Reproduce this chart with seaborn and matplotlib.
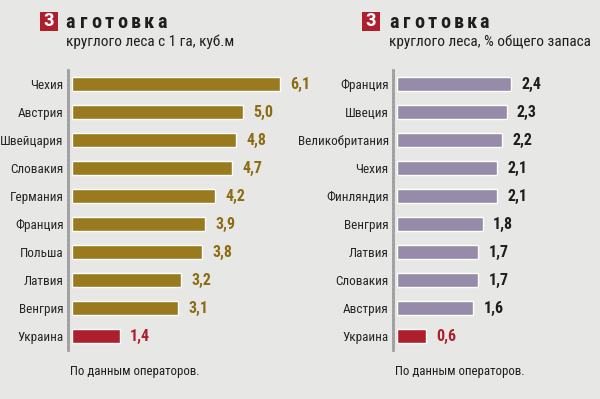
import matplotlib
matplotlib.use("Agg")
import matplotlib.pyplot as plt
import seaborn as sns
import pandas as pd
from matplotlib.patches import Rectangle

# Data
left_countries = ["Чехия", "Австрия", "Швейцария", "Словакия", "Германия",
                  "Франция", "Польша", "Латвия", "Венгрия", "Украина"]
left_values = [6.1, 5.0, 4.8, 4.7, 4.2, 3.9, 3.8, 3.2, 3.1, 1.4]
left_labels = ["6,1", "5,0", "4,8", "4,7", "4,2", "3,9", "3,8", "3,2", "3,1", "1,4"]

right_countries = ["Франция", "Швеция", "Великобритания", "Чехия", "Финляндия",
                   "Венгрия", "Латвия", "Словакия", "Австрия", "Украина"]
right_values = [2.4, 2.3, 2.2, 2.1, 2.1, 1.8, 1.7, 1.7, 1.6, 0.6]
right_labels = ["2,4", "2,3", "2,2", "2,1", "2,1", "1,8", "1,7", "1,7", "1,6", "0,6"]

heading_letter = "З"
heading_rest = "аготовка"
left_title = "круглого леса с 1 га, куб.м"
right_title = "круглого леса, % общего запаса"
footer = "По данным операторов."

BG = "#e7e7e5"
GOLD = "#9a7a1e"
GOLD_TXT = "#8c6c12"
PURPLE = "#968ba9"
RED = "#ad1f2c"
DARK = "#1e1e1e"

sns.set_theme(style="white")
FAM = ['Roboto Condensed', 'Liberation Sans Narrow', 'Open Sans Condensed',
       'Liberation Sans', 'DejaVu Sans']
plt.rcParams['font.family'] = FAM

W, H = 600, 399
fig = plt.figure(figsize=(W / 100, H / 100), dpi=100, facecolor=BG)


def px_axes(x0, y0, w, h):
    return fig.add_axes([x0 / W, 1 - (y0 + h) / H, w / W, h / H])


def panel(ax, countries, values, labels, bar_color, txt_color, xmax):
    df = pd.DataFrame({"country": countries, "value": values})
    colors = [bar_color] * (len(countries) - 1) + [RED]
    sns.barplot(data=df, x="value", y="country", hue="country", palette=colors,
                legend=False, ax=ax, width=0.5, saturation=1, orient="h")
    ax.set_xlim(0, xmax)
    ax.set_ylim(len(countries) - 0.5, -0.5)
    ax.set_facecolor(BG)
    for s in ["top", "right", "bottom"]:
        ax.spines[s].set_visible(False)
    ax.spines["left"].set_color("#a0a0a0")
    ax.spines["left"].set_linewidth(2)
    ax.spines["left"].set_linestyle((0, (1, 0.6)))
    ax.spines["left"].set_position(("outward", 3))
    ax.set_xlabel("")
    ax.set_ylabel("")
    ax.set_xticks([])
    ax.tick_params(axis="y", length=0, pad=3, labelsize=9.5, colors="#262626")
    for i, (v, lab) in enumerate(zip(values, labels)):
        c = RED if i == len(values) - 1 else txt_color
        ax.annotate(lab, (v, i), xytext=(7.5, 0), textcoords="offset points",
                    va="center", ha="left", fontsize=11.5, fontweight="bold", color=c)


axL = px_axes(72, 70, 239, 280)
panel(axL, left_countries, left_values, left_labels, GOLD, GOLD_TXT, 7.0)

axR = px_axes(397, 70, 200, 280)
panel(axR, right_countries, right_values, right_labels, PURPLE, DARK, 4.2)


def header(x_sq, x_txt, sub):
    fig.patches.append(Rectangle((x_sq / W, 1 - 31 / H), 18 / W, 19 / H,
                                 transform=fig.transFigure, facecolor=RED,
                                 edgecolor="none"))
    fig.text((x_sq + 9) / W, 1 - 21.5 / H, heading_letter, color="white",
             fontsize=14, fontweight="bold", ha="center", va="center")
    for k, ch in enumerate(heading_rest):
        fig.text((x_txt + 4.5 + 13 * k) / W, 1 - 23 / H, ch, color=DARK,
                 fontsize=14.5, fontweight="bold", ha="center", va="center")
    fig.text(x_txt / W, 1 - 42 / H, sub, color=DARK, fontsize=11,
             ha="left", va="center")


header(40, 66, left_title)
header(362, 389, right_title)

fig.text(70 / W, 1 - 372 / H, footer, color=DARK, fontsize=9.3, ha="left", va="center")
fig.text(395 / W, 1 - 372 / H, footer, color=DARK, fontsize=9.3, ha="left", va="center")

fig.savefig("out.png", dpi=100, facecolor=BG)
